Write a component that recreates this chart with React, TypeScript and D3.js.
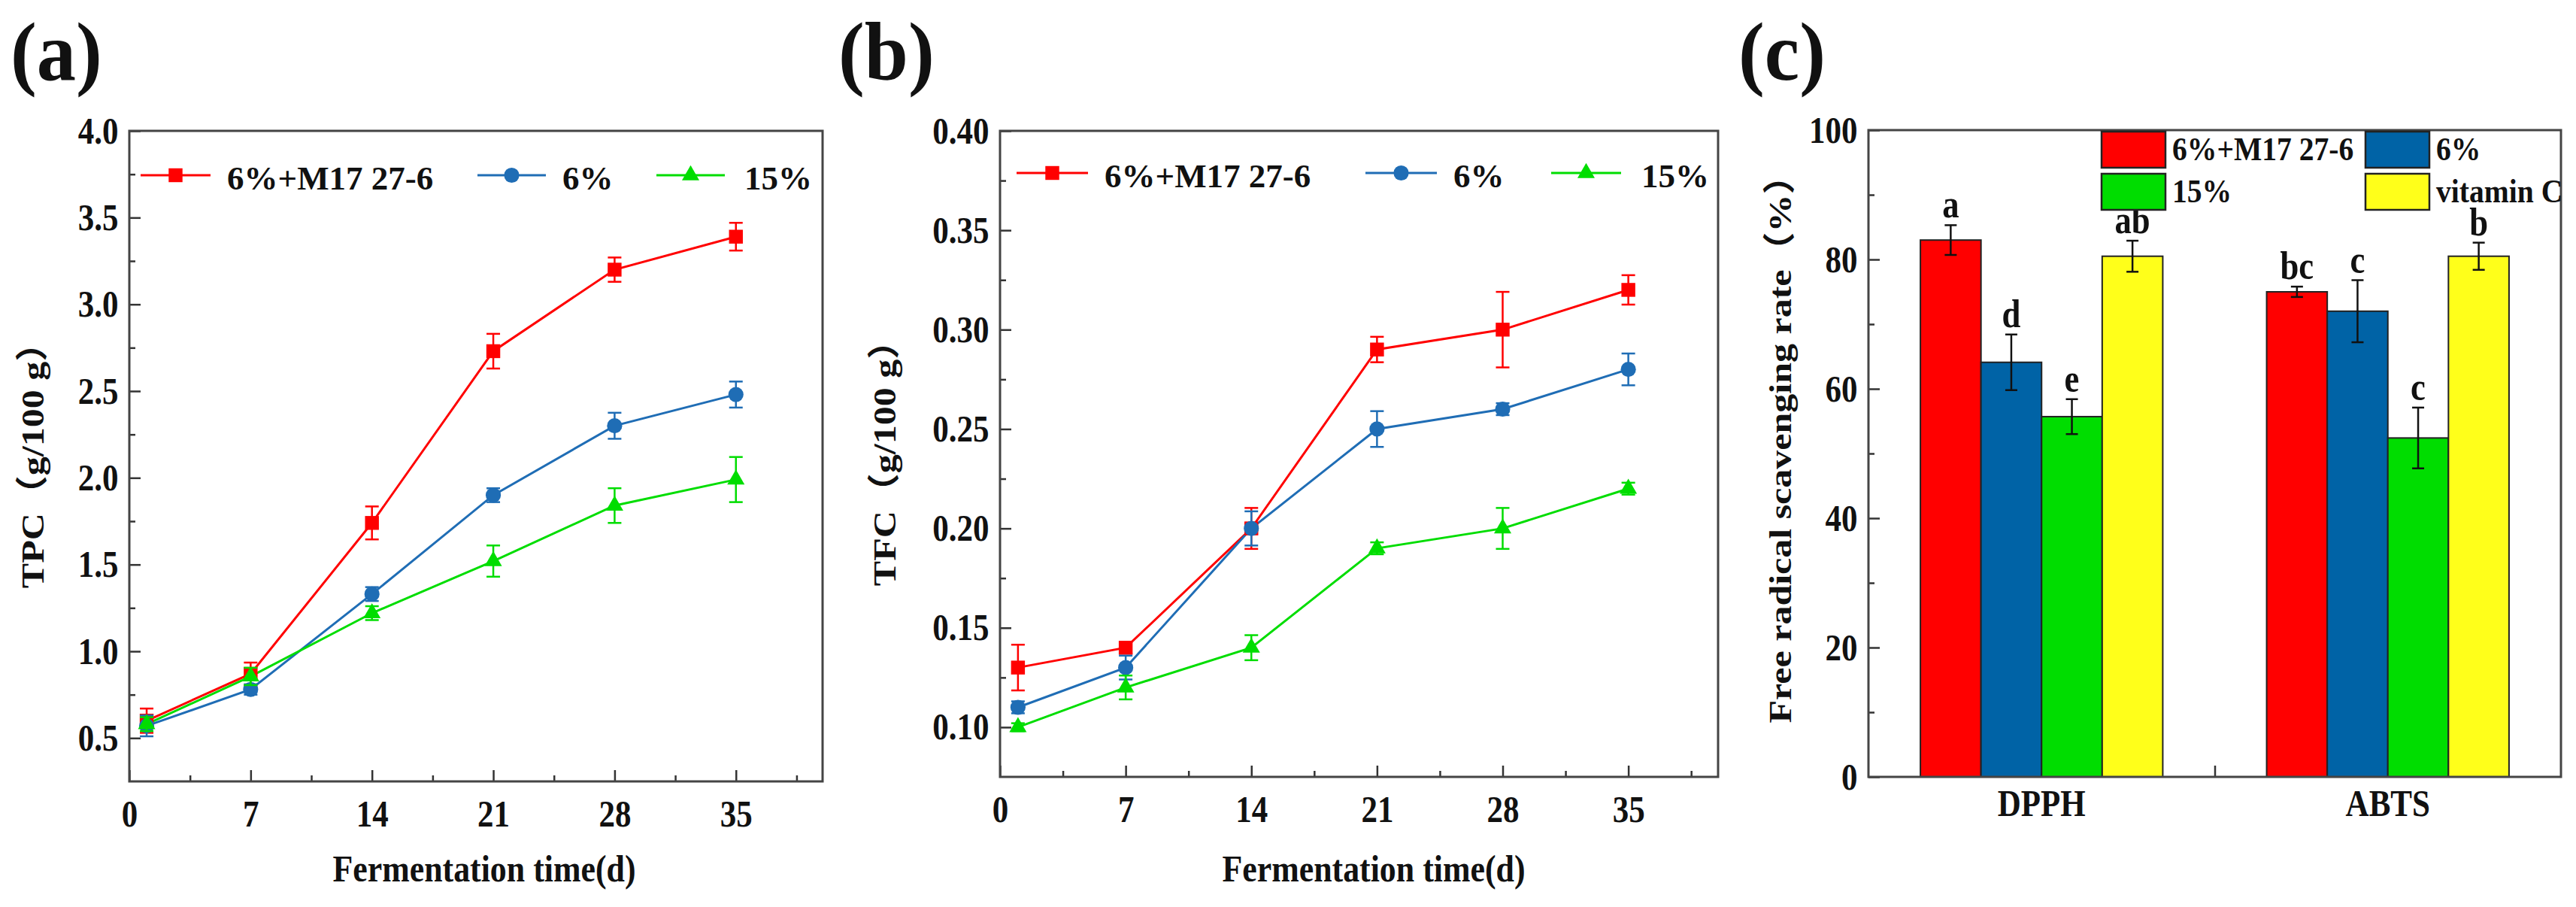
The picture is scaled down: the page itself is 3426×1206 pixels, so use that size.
import { useEffect, useRef } from "react";
import * as d3 from "d3";

const days = [1, 7, 14, 21, 28, 35];
const seriesNames = ["6%+M17 27-6", "6%", "15%"];

// (a) TPC g/100 g
const tpcRed = [0.6, 0.87, 1.74, 2.73, 3.2, 3.39];
const tpcRedErr = [0.07, 0.065, 0.095, 0.1, 0.07, 0.08];
const tpcBlue = [0.57, 0.78, 1.33, 1.9, 2.3, 2.48];
const tpcBlueErr = [0.06, 0.03, 0.04, 0.04, 0.075, 0.075];
const tpcGreen = [0.58, 0.855, 1.22, 1.52, 1.84, 1.99];
const tpcGreenErr = [0.04, 0.05, 0.04, 0.09, 0.1, 0.13];

// (b) TFC g/100 g
const tfcRed = [0.13, 0.14, 0.2, 0.29, 0.3, 0.32];
const tfcRedErr = [0.0115, 0.003, 0.0103, 0.0064, 0.019, 0.0074];
const tfcBlue = [0.11, 0.13, 0.2, 0.25, 0.26, 0.28];
const tfcBlueErr = [0.003, 0.006, 0.0086, 0.009, 0.003, 0.008];
const tfcGreen = [0.1, 0.12, 0.14, 0.19, 0.2, 0.22];
const tfcGreenErr = [0.002, 0.006, 0.0063, 0.003, 0.0103, 0.003];

// (c) scavenging rate %
const assays = ["DPPH", "ABTS"];
const barGroups = ["6%+M17 27-6", "6%", "15%", "vitamin C"];
const dpphValues = [83.0, 64.1, 55.7, 80.5];
const dpphErrors = [2.3, 4.3, 2.7, 2.4];
const dpphLetters = ["a", "d", "e", "ab"];
const abtsValues = [75.0, 72.0, 52.4, 80.5];
const abtsErrors = [0.8, 4.8, 4.7, 2.1];
const abtsLetters = ["bc", "c", "c", "b"];

const tpcTicks = [0.5, 1.0, 1.5, 2.0, 2.5, 3.0, 3.5, 4.0];
const tfcTicks = [0.1, 0.15, 0.2, 0.25, 0.3, 0.35, 0.4];
const dayTicks = [0, 7, 14, 21, 28, 35];
const rateTicks = [0, 20, 40, 60, 80, 100];

const FONT = "'Liberation Serif', 'Times New Roman', Times, 'Noto Sans CJK SC', serif";
const lineColors = ["#ff0000", "#1f6db5", "#00dd00"];
const barColors = ["#ff0000", "#0063a6", "#00dd00", "#ffff1a"];
const markers = [d3.symbolSquare, d3.symbolCircle, d3.symbolTriangle];
const markerSizes = [340, 320, 230];
const SQ = 0.86; // horizontal squeeze of the original figure

type Sel = d3.Selection<SVGGElement, unknown, null, undefined>;

function squeezedText(
  g: Sel, x: number, y: number, text: string, size: number,
  anchor = "middle", rotate = false, sq = SQ,
) {
  return g
    .append("text")
    .attr("transform", rotate ? `translate(${x},${y}) rotate(-90) scale(1,${sq})` : `translate(${x},${y}) scale(${sq},1)`)
    .attr("text-anchor", anchor)
    .attr("font-family", FONT)
    .attr("font-weight", "bold")
    .attr("font-size", size)
    .attr("fill", "#111")
    .text(text);
}

function styleAxis(ax: Sel, fontSize: number) {
  ax.select(".domain").remove();
  ax.selectAll(".tick line").attr("stroke", "#333").attr("stroke-width", 2.5);
  ax.selectAll("text")
    .attr("font-family", FONT)
    .attr("font-weight", "bold")
    .attr("font-size", fontSize)
    .attr("fill", "#111")
    .attr("transform", `scale(${SQ},1)`);
}

type LinePanel = {
  left: number;
  right: number;
  top: number;
  bottom: number;
  yDomain: [number, number];
  yTicks: number[];
  yFormat: string;
  values: number[][];
  errors: number[][];
  legendY: number;
  legendX: number[][];
  yTitle: string;
  yTitleX: number;
  label: string;
  labelX: number;
  xTitleX: number;
};

function drawLinePanel(root: Sel, p: LinePanel) {
  const g = root.append("g");
  const x = d3.scaleLinear().domain([0, 40]).range([p.left, p.right]);
  const y = d3.scaleLinear().domain(p.yDomain).range([p.bottom, p.top]);
  const step = p.yTicks[1] - p.yTicks[0];
  const yMinor = p.yTicks.map((t) => t + step / 2).filter((t) => t < p.yDomain[1]);
  const xMinor = dayTicks.map((t) => t + 3.5);

  // minor ticks
  const ym = g.append("g").attr("transform", `translate(${p.left},0)`)
    .call(d3.axisLeft(y).tickValues(yMinor).tickSizeInner(-8).tickSizeOuter(0).tickFormat(() => ""));
  styleAxis(ym, 50);
  const xm = g.append("g").attr("transform", `translate(0,${p.bottom})`)
    .call(d3.axisBottom(x).tickValues(xMinor).tickSizeInner(-8).tickSizeOuter(0).tickFormat(() => ""));
  styleAxis(xm, 50);

  // major ticks
  const ya = g.append("g").attr("transform", `translate(${p.left},0)`)
    .call(d3.axisLeft(y).tickValues(p.yTicks).tickSizeInner(-15).tickSizeOuter(0).tickPadding(17).tickFormat(d3.format(p.yFormat)));
  styleAxis(ya, 50);
  const xa = g.append("g").attr("transform", `translate(0,${p.bottom})`)
    .call(d3.axisBottom(x).tickValues(dayTicks).tickSizeInner(-15).tickSizeOuter(0).tickPadding(25).tickFormat(d3.format("d")));
  styleAxis(xa, 50);

  // frame
  g.append("rect")
    .attr("x", p.left).attr("y", p.top)
    .attr("width", p.right - p.left).attr("height", p.bottom - p.top)
    .attr("fill", "none").attr("stroke", "#444").attr("stroke-width", 3);

  const line = d3.line<number>().x((_, i) => x(days[i])).y((d) => y(d));

  p.values.forEach((vals, s) => {
    g.append("path").datum(vals)
      .attr("fill", "none").attr("stroke", lineColors[s]).attr("stroke-width", 3)
      .attr("d", line);
  });

  p.values.forEach((vals, s) => {
    const col = lineColors[s];
    vals.forEach((v, i) => {
      const cx = x(days[i]);
      const e = p.errors[s][i];
      const y0 = y(v - e);
      const y1 = y(v + e);
      g.append("line").attr("x1", cx).attr("x2", cx).attr("y1", y0).attr("y2", y1)
        .attr("stroke", col).attr("stroke-width", 2.5);
      [y0, y1].forEach((yy) => {
        g.append("line").attr("x1", cx - 9).attr("x2", cx + 9).attr("y1", yy).attr("y2", yy)
          .attr("stroke", col).attr("stroke-width", 2.5);
      });
      g.append("path")
        .attr("d", d3.symbol(markers[s], markerSizes[s])())
        .attr("transform", `translate(${cx},${y(v)})`)
        .attr("fill", col);
    });
  });

  // legend
  seriesNames.forEach((name, s) => {
    const [x1, x2, tx] = p.legendX[s];
    g.append("line").attr("x1", x1).attr("x2", x2).attr("y1", p.legendY).attr("y2", p.legendY)
      .attr("stroke", lineColors[s]).attr("stroke-width", 3);
    g.append("path")
      .attr("d", d3.symbol(markers[s], markerSizes[s])())
      .attr("transform", `translate(${(x1 + x2) / 2},${p.legendY})`)
      .attr("fill", lineColors[s]);
    g.append("text").attr("x", tx).attr("y", p.legendY + 19)
      .attr("font-family", FONT).attr("font-weight", "bold").attr("font-size", 45)
      .attr("fill", "#111").text(name);
  });

  squeezedText(g, p.xTitleX, 1172, "Fermentation time(d)", 51);
  squeezedText(g, p.yTitleX, (p.top + p.bottom) / 2, p.yTitle, 50, "middle", true);
  squeezedText(g, p.labelX, 106, p.label, 110, "start", false, 0.95);
}

function drawBarPanel(root: Sel) {
  const g = root.append("g");
  const left = 2485, right = 3406, top = 173, bottom = 1033;
  const x = d3.scaleLinear().domain([0.5, 2.5]).range([left, right]);
  const y = d3.scaleLinear().domain([0, 100]).range([bottom, top]);
  const bw = 0.175;

  const ym = g.append("g").attr("transform", `translate(${left},0)`)
    .call(d3.axisLeft(y).tickValues([10, 30, 50, 70, 90]).tickSizeInner(-8).tickSizeOuter(0).tickFormat(() => ""));
  styleAxis(ym, 50);
  const ya = g.append("g").attr("transform", `translate(${left},0)`)
    .call(d3.axisLeft(y).tickValues(rateTicks).tickSizeInner(-15).tickSizeOuter(0).tickPadding(17).tickFormat(d3.format("d")));
  styleAxis(ya, 50);
  const xa = g.append("g").attr("transform", `translate(0,${bottom})`)
    .call(d3.axisBottom(x).tickValues([1, 1.5, 2]).tickSizeInner(-15).tickSizeOuter(0).tickFormat(() => ""));
  styleAxis(xa, 50);

  const groups = [
    { vals: dpphValues, errs: dpphErrors, letters: dpphLetters },
    { vals: abtsValues, errs: abtsErrors, letters: abtsLetters },
  ];

  groups.forEach((grp, gi) => {
    const center = gi + 1;
    grp.vals.forEach((v, i) => {
      const x0 = x(center + (i - 2) * bw);
      const x1 = x(center + (i - 1) * bw);
      g.append("rect")
        .attr("x", x0).attr("y", y(v))
        .attr("width", x1 - x0).attr("height", y(0) - y(v))
        .attr("fill", barColors[i]).attr("stroke", "#222").attr("stroke-width", 2);
    });
    grp.vals.forEach((v, i) => {
      const cx = (x(center + (i - 2) * bw) + x(center + (i - 1) * bw)) / 2;
      const e = grp.errs[i];
      const y0 = y(v - e);
      const y1 = y(v + e);
      g.append("line").attr("x1", cx).attr("x2", cx).attr("y1", y0).attr("y2", y1)
        .attr("stroke", "#111").attr("stroke-width", 2.5);
      [y0, y1].forEach((yy) => {
        g.append("line").attr("x1", cx - 8).attr("x2", cx + 8).attr("y1", yy).attr("y2", yy)
          .attr("stroke", "#111").attr("stroke-width", 2.5);
      });
      squeezedText(g, cx, y1 - 10, grp.letters[i], 52);
    });
    squeezedText(g, x(center), 1085, assays[gi], 50);
  });

  g.append("rect")
    .attr("x", left).attr("y", top)
    .attr("width", right - left).attr("height", bottom - top)
    .attr("fill", "none").attr("stroke", "#444").attr("stroke-width", 3);

  // legend (2 x 2)
  const cols = [2795, 3146];
  const rows = [175, 231];
  barGroups.forEach((name, i) => {
    const cx = cols[i % 2];
    const ry = rows[Math.floor(i / 2)];
    g.append("rect").attr("x", cx).attr("y", ry).attr("width", 85).attr("height", 48)
      .attr("fill", barColors[i]).attr("stroke", "#222").attr("stroke-width", 2.5);
    squeezedText(g, cx + 94, ry + 38, name, 44, "start", false, 0.9);
  });

  squeezedText(g, 2382, 585, "Free radical scavenging rate（%）", 50, "middle", true);
  squeezedText(g, 2312, 106, "(c)", 110, "start", false, 0.95);
}

export default function App() {
  const svgRef = useRef<SVGSVGElement>(null);

  useEffect(() => {
    document.body.style.margin = "0";
    if (!svgRef.current) return;
    const svg = d3.select(svgRef.current);
    svg.selectAll("*").remove();
    const root = svg.append("g") as unknown as Sel;

    drawLinePanel(root, {
      left: 172, right: 1094, top: 174, bottom: 1039,
      yDomain: [0.25, 4.0], yTicks: tpcTicks, yFormat: ".1f",
      values: [tpcRed, tpcBlue, tpcGreen],
      errors: [tpcRedErr, tpcBlueErr, tpcGreenErr],
      legendY: 233,
      legendX: [[187, 280, 302], [635, 726, 748], [873, 964, 990]],
      yTitle: "TPC（g/100 g）", yTitleX: 58,
      label: "(a)", labelX: 14, xTitleX: 644,
    });

    drawLinePanel(root, {
      left: 1330, right: 2285, top: 174, bottom: 1033,
      yDomain: [0.075, 0.4], yTicks: tfcTicks, yFormat: ".2f",
      values: [tfcRed, tfcBlue, tfcGreen],
      errors: [tfcRedErr, tfcBlueErr, tfcGreenErr],
      legendY: 230,
      legendX: [[1352, 1447, 1469], [1816, 1911, 1933], [2063, 2156, 2183]],
      yTitle: "TFC（g/100 g）", yTitleX: 1191,
      label: "(b)", labelX: 1115, xTitleX: 1827,
    });

    drawBarPanel(root);
  }, []);

  return <svg ref={svgRef} width={3426} height={1206} style={{ display: "block", background: "#fff" }} />;
}
